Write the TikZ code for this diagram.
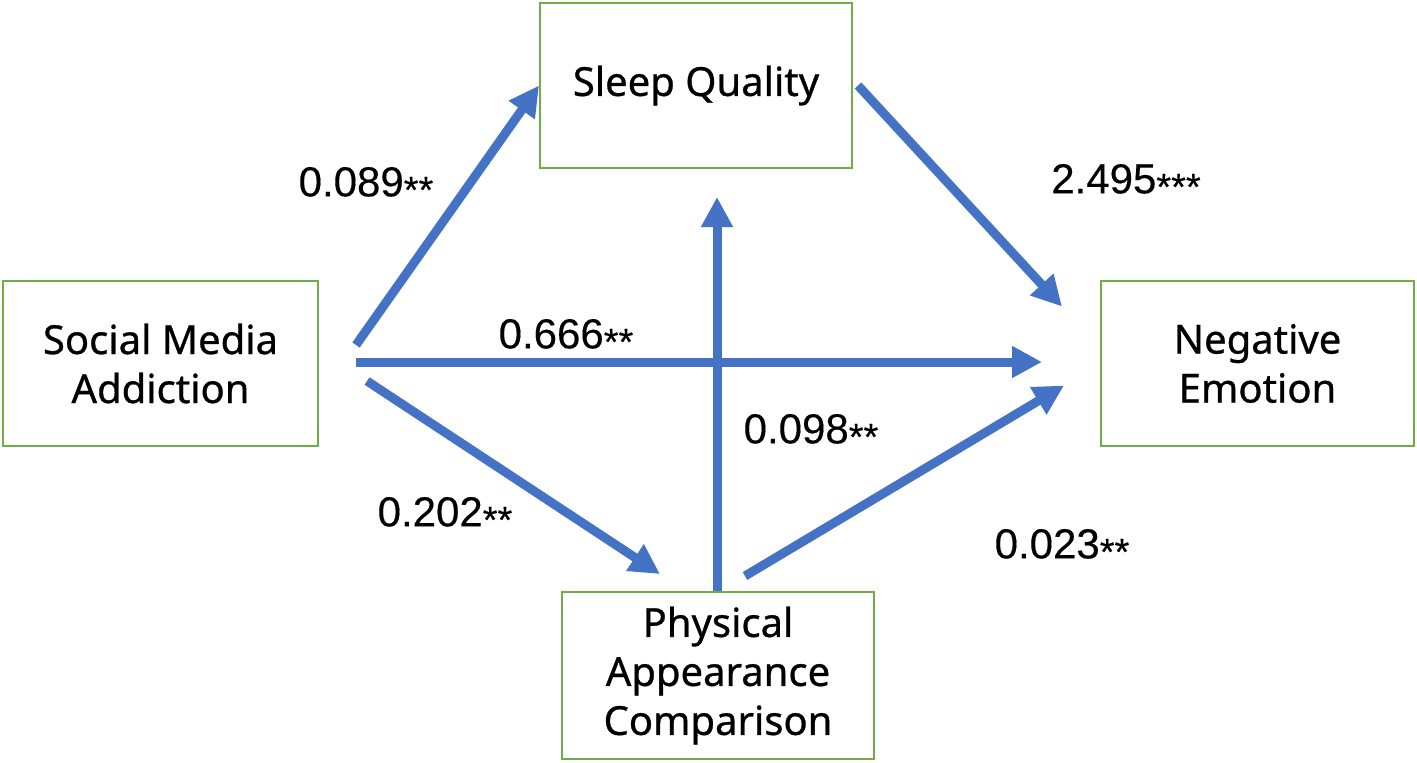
\documentclass[tikz,border=0pt]{standalone}
\usepackage{fontspec}
\setmainfont{Noto Sans}
\newfontfamily\boxfont[FakeBold=0.7]{Noto Sans}
\newfontfamily\labfont[FakeBold=0.3]{Liberation Sans}
\usetikzlibrary{arrows.meta,calc}
\definecolor{boxgreen}{HTML}{70AD47}
\definecolor{arrblue}{HTML}{4472C4}
\tikzset{
  varbox/.style={draw=boxgreen, line width=1pt, fill=white, align=center,
    minimum width=156pt, minimum height=82.5pt, inner sep=0pt,
    font=\boxfont\fontsize{20}{24.5}\selectfont},
  arr/.style={draw=arrblue, line width=4.5pt,
    -{Triangle[length=15pt,width=15pt]}},
  coef/.style={inner sep=0pt, font=\labfont\fontsize{21}{21}\selectfont}
}
\newcommand{\stars}[1]{{\fontsize{19}{19}\selectfont\raisebox{-3.3pt}{#1}}}
\begin{document}
\begin{tikzpicture}[x=0.5pt,y=-0.5pt]
\useasboundingbox (0,0) rectangle (1417,762);
\node[varbox] (sq) at (696,85.5) {Sleep Quality};
\node[varbox, minimum width=157.5pt] (sma) at (160.5,363.5) {Social Media\\Addiction};
\node[varbox, minimum width=156.5pt] (ne) at (1257.5,363.5) {Negative\\Emotion};
\node[varbox, minimum height=83.5pt] (pac) at (718,675.5) {Physical\\Appearance\\Comparison};

\draw[arr] ([shift={(37,-18.5)}]sma.east) -- (sq.west);
\draw[arr] ([shift={(5,0)}]sq.east) -- ([shift={(-38,-57)}]ne.west);
\draw[arr] ([shift={(37,-1.5)}]sma.east) -- ([shift={(-58,-1.5)}]ne.west);
\draw[arr] ([shift={(48,17.5)}]sma.east) -- ([shift={(-58,-17)}]pac.north);
\draw[arr] ([shift={(-1,0)}]pac.north) -- ([shift={(21,28)}]sq.south);
\draw[arr] ([shift={(27,-15)}]pac.north) -- ([shift={(-36,22)}]ne.west);

\node[coef] (c1) at (366,185) {0.089\stars{**}};
\node[coef] (c2) at (1126,182) {2.495\stars{***}};
\node[coef] (c3) at (566,337) {0.666\stars{**}};
\node[coef] (c4) at (811,432) {0.098\stars{**}};
\node[coef] (c5) at (445,515) {0.202\stars{**}};
\node[coef] (c6) at (1062,547) {0.023\stars{**}};
\end{tikzpicture}
\end{document}
